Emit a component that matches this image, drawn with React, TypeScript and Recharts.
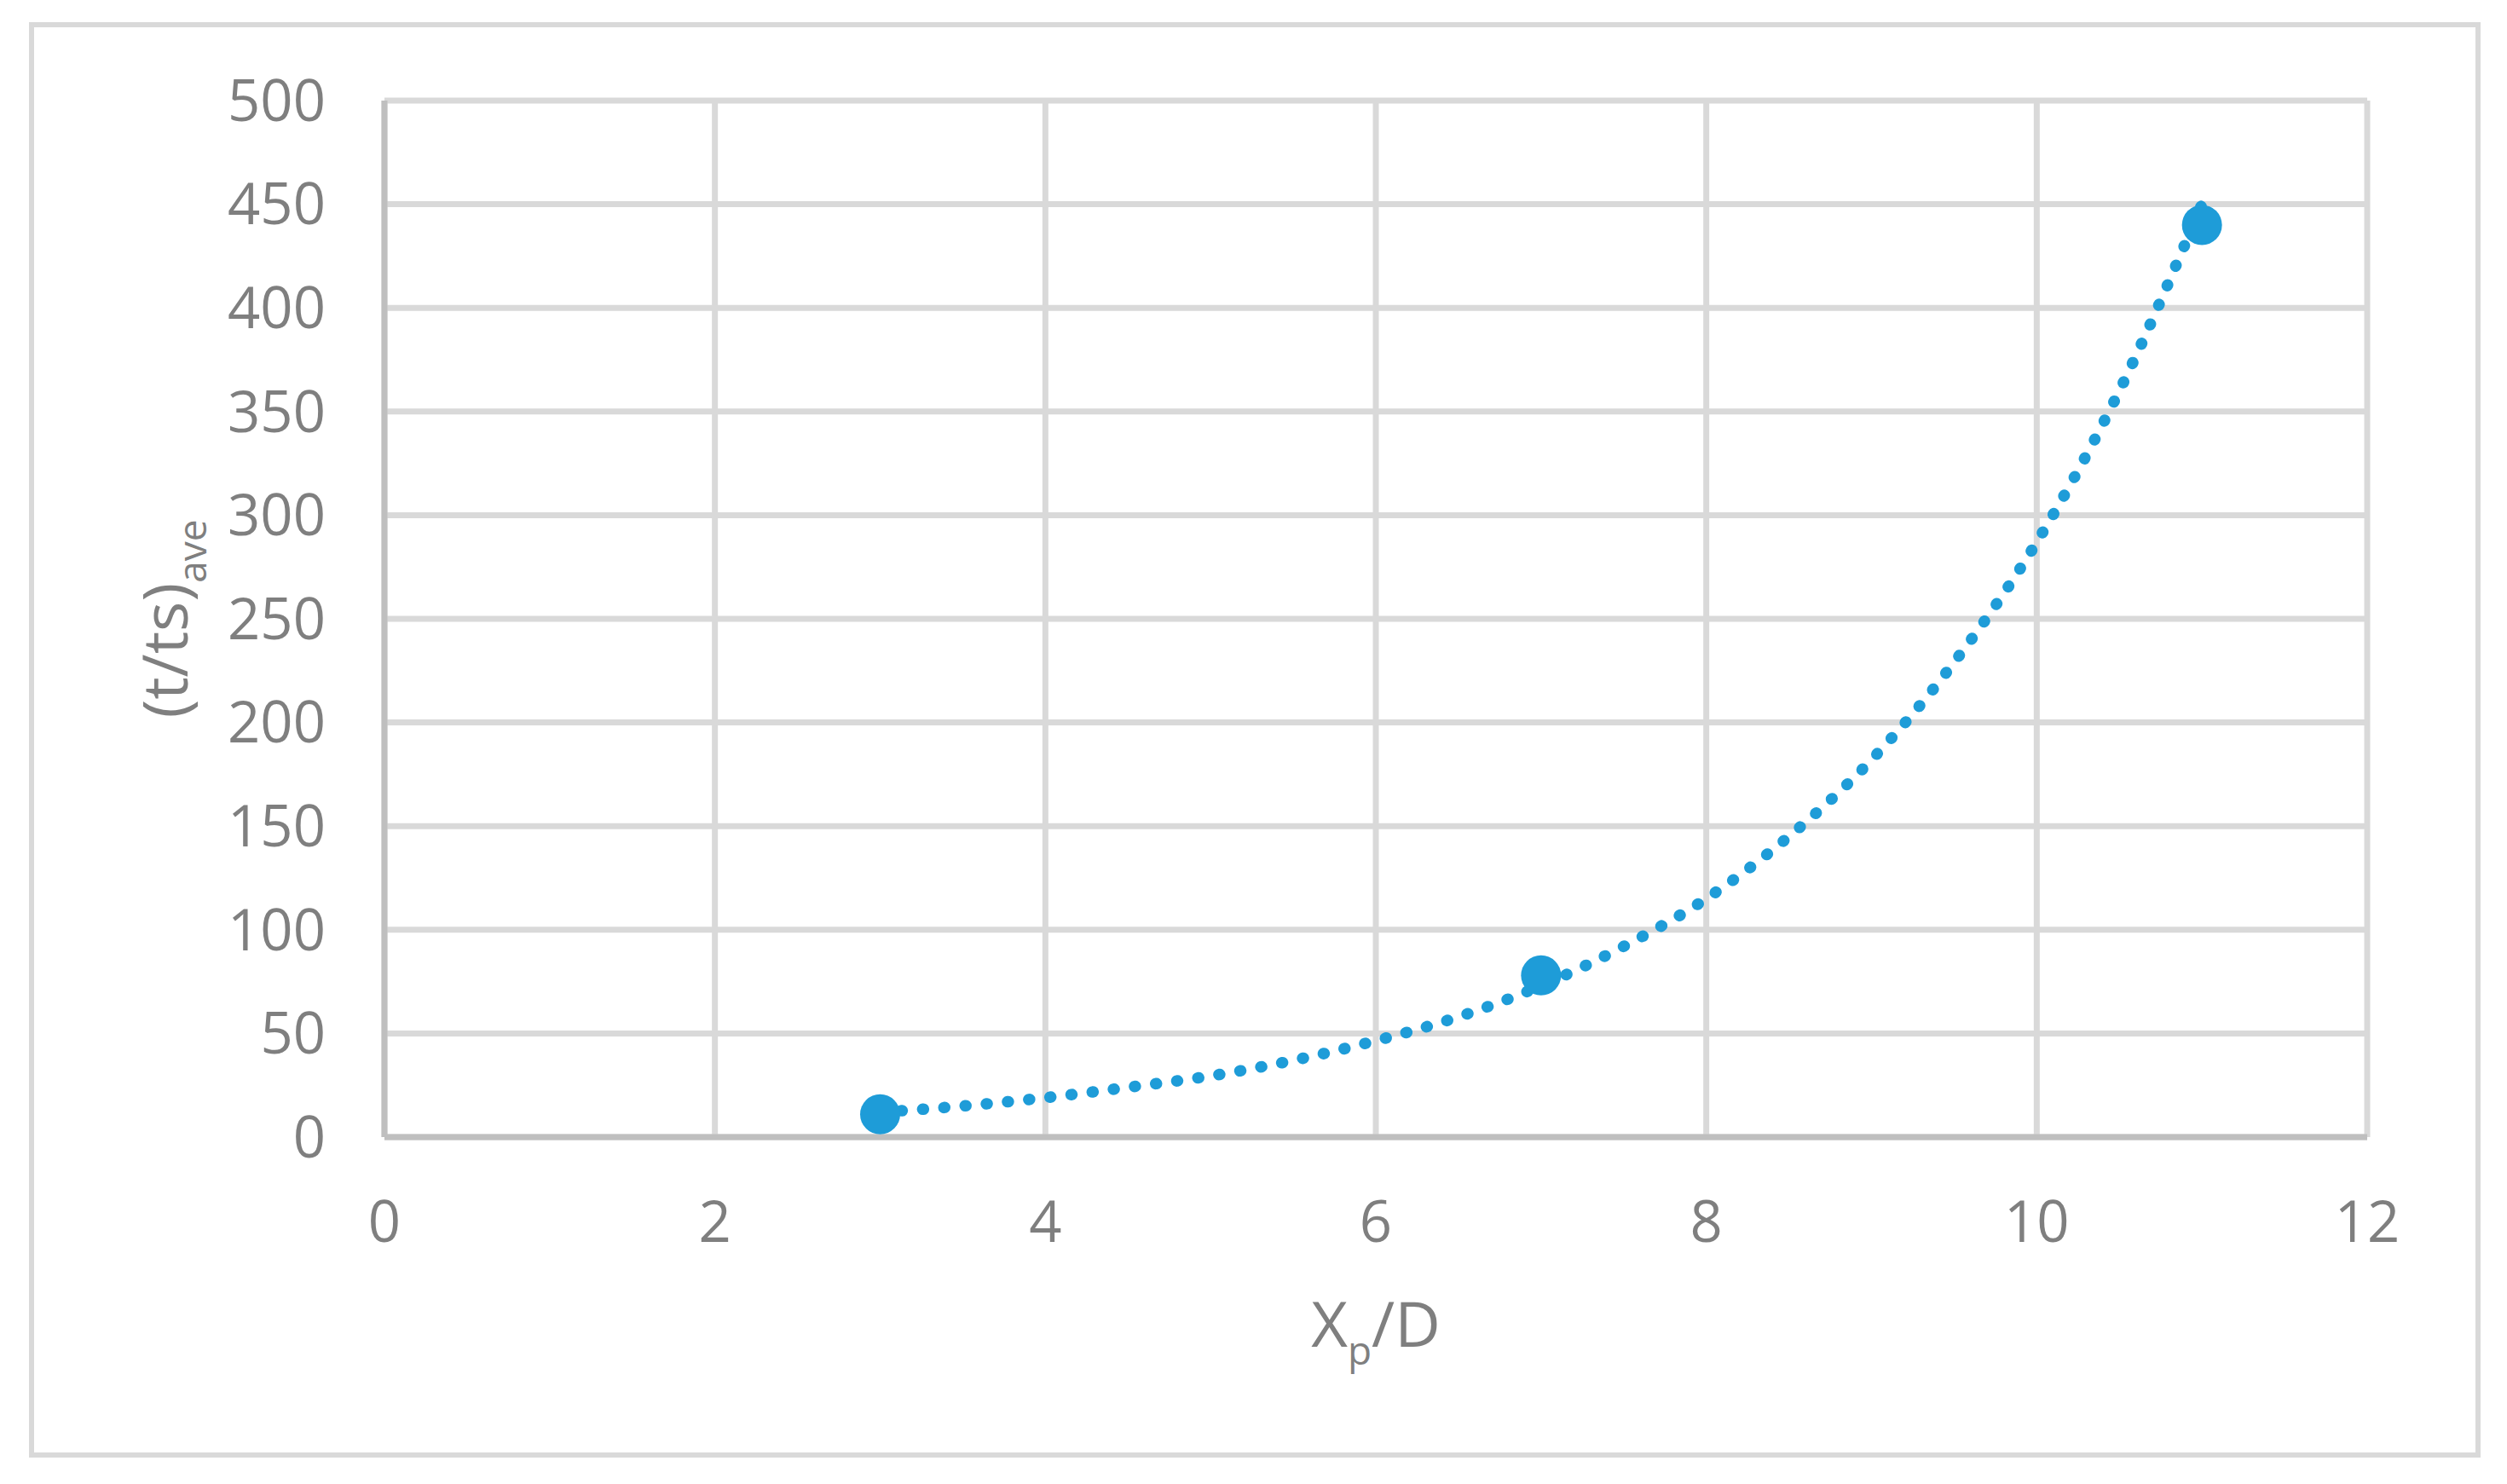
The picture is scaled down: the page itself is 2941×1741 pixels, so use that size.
import React from 'react'
import { ComposedChart, Scatter, Line, XAxis, YAxis, CartesianGrid } from 'recharts'

// measured points
const pointX = [3, 7, 11]
const pointY = [11, 78, 440]

// dotted trend curve, every 0.5
const trendX = [3, 3.5, 4, 4.5, 5, 5.5, 6, 6.5, 7, 7.5, 8, 8.5, 9, 9.5, 10, 10.5, 11]
const trendY = [12, 15, 19, 24, 29.5, 37, 46.5, 58, 73, 92, 115, 145, 182, 229, 287, 360, 450]

const xTicks = [0, 2, 4, 6, 8, 10, 12]
const yTicks = [0, 50, 100, 150, 200, 250, 300, 350, 400, 450, 500]

const points = pointX.map((x, i) => ({ x, y: pointY[i] }))
const trend = trendX.map((x, i) => ({ x, y: trendY[i] }))

const BLUE = '#1e9cd8'
const GREY = '#7f7f7f'
const FONT = '"Open Sans", "Noto Sans", sans-serif'

const W = 2925
const H = 1720

function XTitle() {
  return (
    <text x={1606} y={1572} textAnchor="middle" fontFamily={FONT} fontSize={74} fill={GREY}>
      X<tspan fontSize={46} dy={21}>p</tspan>
      <tspan dy={-21}>/D</tspan>
    </text>
  )
}

function YTitle() {
  const cx = 212
  const cy = 718
  return (
    <text
      x={cx}
      y={cy}
      transform={`rotate(-90 ${cx} ${cy})`}
      textAnchor="middle"
      fontFamily={FONT}
      fontSize={74}
      fill={GREY}
    >
      (t/ts)<tspan fontSize={46} dy={22}>ave</tspan>
    </text>
  )
}

const dot = (p: any) => <circle cx={p.cx} cy={p.cy} r={23.5} fill={BLUE} />

export default function App() {
  const tick = { fontSize: 67, fill: GREY, fontFamily: FONT }
  return (
    <div style={{ position: 'relative', width: W, height: H }}>
      <div
        style={{
          position: 'absolute',
          left: 26,
          top: 18,
          width: 2876,
          height: 1684,
          border: '6px solid #d9d9d9',
          boxSizing: 'border-box',
          background: '#fff',
        }}
      />
      <div style={{ position: 'absolute', left: 0, top: 0 }}>
        <ComposedChart width={W} height={H} margin={{ top: 110, right: 156, left: 0, bottom: 0 }}>
          <CartesianGrid stroke="#d9d9d9" strokeWidth={7} />
          <XAxis
            type="number"
            dataKey="x"
            domain={[0, 12]}
            ticks={xTicks}
            height={H - 1326}
            tick={tick}
            tickLine={false}
            tickSize={0}
            tickMargin={75}
            axisLine={{ stroke: '#bfbfbf', strokeWidth: 7 }}
            label={{ content: () => <XTitle /> }}
          />
          <YAxis
            type="number"
            dataKey="y"
            domain={[0, 500]}
            ticks={yTicks}
            width={443}
            tick={tick}
            tickLine={false}
            tickSize={0}
            tickMargin={69}
            axisLine={{ stroke: '#bfbfbf', strokeWidth: 7 }}
            label={{ content: () => <YTitle /> }}
          />
          <Scatter data={points} dataKey="y" shape={dot} isAnimationActive={false} />
          <Line
            data={trend}
            dataKey="y"
            type="monotone"
            stroke={BLUE}
            strokeWidth={13.5}
            strokeDasharray="1 24"
            strokeLinecap="round"
            dot={false}
            activeDot={false}
            isAnimationActive={false}
          />
        </ComposedChart>
      </div>
    </div>
  )
}
